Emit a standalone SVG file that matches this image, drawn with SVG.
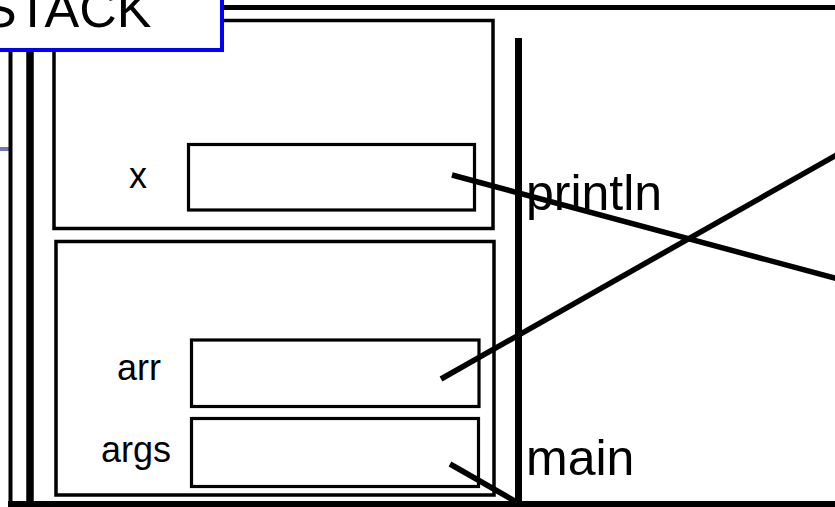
<svg xmlns="http://www.w3.org/2000/svg" width="835" height="507" viewBox="0 0 835 507">
  <style>
    .edge { fill: none; stroke: #000; }
    .frame { fill: none; stroke: #000; stroke-width: 3.5; }
    .slot { fill: #fff; stroke: #000; stroke-width: 3.2; }
    .lbl { font-family: "Liberation Sans", Arial, sans-serif; fill: #000; }
    .var { font-size: 36px; text-anchor: middle; }
    .fn { font-size: 50px; }
    .ptr { stroke: #000; stroke-width: 5.5; fill: none; }
  </style>
  <rect width="835" height="507" fill="#fff"/>

  <!-- outer stack outline -->
  <g id="stack-outline">
    <line class="edge" x1="0" y1="149" x2="9" y2="149" style="stroke:#7878b0;stroke-width:4"/>
    <line class="edge" x1="10.5" y1="40" x2="10.5" y2="507" stroke-width="4"/>
    <line class="edge" x1="30" y1="40" x2="30" y2="503" stroke-width="7.5"/>
    <line class="edge" x1="8" y1="504" x2="835" y2="504" stroke-width="6"/>
    <line class="edge" x1="215" y1="7.5" x2="835" y2="7.5" stroke-width="5"/>
    <line class="edge" x1="518.5" y1="38" x2="518.5" y2="505" stroke-width="7"/>
  </g>

  <!-- println frame -->
  <g id="frame-println">
    <rect class="frame" x="54" y="20.5" width="439" height="208"/>
    <text class="lbl fn" x="526" y="210">println</text>
  </g>
  <g id="var-x">
    <text class="lbl var" x="138" y="188">x</text>
    <rect class="slot" x="188.5" y="144.5" width="286" height="65.5"/>
  </g>

  <!-- main frame -->
  <g id="frame-main">
    <rect class="frame" x="56" y="241.5" width="438" height="253.5" stroke-width="4"/>
    <text class="lbl fn" x="526" y="475">main</text>
  </g>
  <g id="var-arr">
    <text class="lbl var" x="139" y="380">arr</text>
    <rect class="slot" x="191.5" y="340" width="287.5" height="66.5" stroke-width="3.5"/>
  </g>
  <g id="var-args">
    <text class="lbl var" x="136" y="462">args</text>
    <rect class="slot" x="191.5" y="418.5" width="287" height="68"/>
  </g>

  <!-- title tab, drawn over the frame corners -->
  <g id="stack-title">
    <rect x="-10" y="-10" width="232" height="60" fill="#fff" stroke="#0000ff" stroke-width="4"/>
    <text class="lbl" x="-18" y="27" font-size="52">STACK</text>
  </g>

  <!-- references -->
  <g id="connectors">
    <line class="ptr" x1="452" y1="175" x2="840" y2="279.5"/>
    <line class="ptr" x1="441" y1="379" x2="840" y2="153"/>
    <line class="ptr" x1="450" y1="464" x2="520" y2="504"/>
  </g>
</svg>
